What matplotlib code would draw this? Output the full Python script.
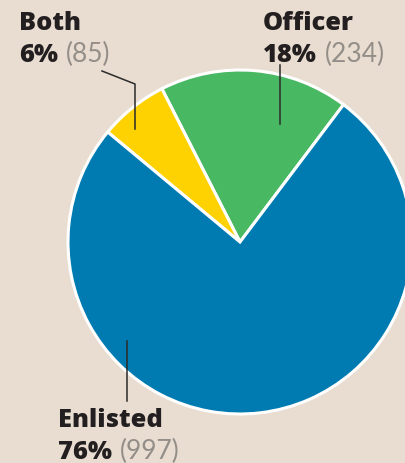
import matplotlib.pyplot as plt

labels = ["Officer", "Both", "Enlisted"]
pcts = ["18%", "6%", "76%"]
counts = [234, 85, 997]
colors = ["#48b863", "#fdd200", "#007bb2"]

W, H = 405, 464
fig = plt.figure(figsize=(W / 100, H / 100), dpi=100)
fig.patch.set_facecolor("#e8ddd0")
ax = fig.add_axes([0, 0, 1, 1])
ax.set_facecolor("#e8ddd0")

# pie centre / radius in pixel units (y measured from bottom)
cx, cy, r = 240, H - 243, 172
ax.pie(counts, colors=colors, startangle=53, counterclock=True,
       center=(cx, cy), radius=r,
       wedgeprops=dict(edgecolor="white", linewidth=2.2))
ax.set_xlim(0, W)
ax.set_ylim(0, H)
ax.set_aspect("equal")
ax.axis("off")

def py(y):
    return H - y

# leader lines (pixel coords from top)
lc = "#2a2a2a"
ax.plot([102, 135, 135], [py(72), py(85), py(130)], color=lc, lw=1.1)
ax.plot([280, 280], [py(66), py(125)], color=lc, lw=1.1)
ax.plot([127, 127], [py(342), py(402)], color=lc, lw=1.1)

bold = dict(family="Open Sans", weight=800, size=18.3, color="#231f20")
light = dict(family="Lato", weight="normal", size=19, color="#948e89")
rend = fig.canvas.get_renderer()

def label(x, base, name, pct, n):
    ax.text(x, py(base), name, va="baseline", ha="left", **bold)
    t = ax.text(x, py(base + 32), pct, va="baseline", ha="left", **bold)
    bb = t.get_window_extent(renderer=rend)
    ax.text(bb.x1 + 8, py(base + 32), f"({n})", va="baseline", ha="left", **light)

label(19, 30, labels[1], pcts[1], counts[1])
label(263, 30, labels[0], pcts[0], counts[0])
label(58, 427, labels[2], pcts[2], counts[2])

fig.savefig("out.png", dpi=100, facecolor=fig.get_facecolor())
